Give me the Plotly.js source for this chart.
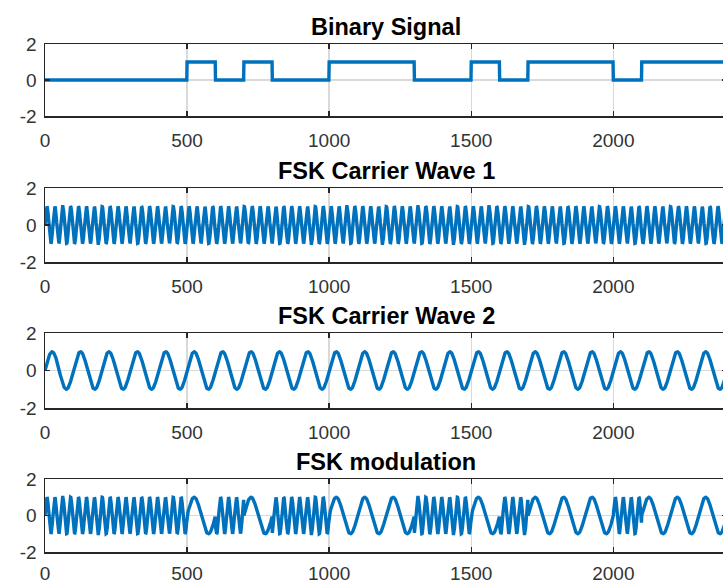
<!DOCTYPE html>
<html>
<head>
<meta charset="utf-8">
<script src="https://cdn.plot.ly/plotly-3.0.1.min.js"></script>
<style>
  html, body { margin: 0; padding: 0; overflow: hidden; background: #fff; }
  #chart { width: 728px; height: 585px; }
</style>
</head>
<body>
<div id="chart"></div>
<script>
// Bit stream sent through the FSK modulator (one bit per 100 samples)
const bits = [0, 0, 0, 0, 0, 1, 0, 1, 0, 0, 1, 1, 1, 0, 0, 1, 0, 1, 1, 1, 0, 1, 1, 1];
const samplesPerBit = 100;
// Carrier frequencies, in cycles per bit period
const carrier1CyclesPerBit = 3.6;   // used for bit 0
const carrier2CyclesPerBit = 1;     // used for bit 1

const panelTitles = ['Binary Signal', 'FSK Carrier Wave 1', 'FSK Carrier Wave 2', 'FSK modulation'];
const xTickVals = [0, 500, 1000, 1500, 2000];
const xTickText = ['0', '500', '1000', '1500', '2000'];
const yTickVals = [-2, 0, 2];
const yTickText = ['-2', '0', '2'];

// Build the sampled signals
const nSamples = bits.length * samplesPerBit;
const n = [], binary = [], carrier1 = [], carrier2 = [], fsk = [];
for (let i = 0; i <= nSamples; i++) {
  const b = bits[Math.min(Math.floor(i / samplesPerBit), bits.length - 1)];
  const c1 = Math.sin(2 * Math.PI * carrier1CyclesPerBit * i / samplesPerBit);
  const c2 = Math.sin(2 * Math.PI * carrier2CyclesPerBit * i / samplesPerBit);
  n.push(i);
  binary.push(b);
  carrier1.push(c1);
  carrier2.push(c2);
  fsk.push(b === 1 ? c2 : c1);
}

const lineColor = '#0072BD';
const series = [binary, carrier1, carrier2, fsk];
const traces = series.map((y, k) => ({
  x: n, y: y, type: 'scatter', mode: 'lines',
  xaxis: k === 0 ? 'x' : 'x' + (k + 1),
  yaxis: k === 0 ? 'y' : 'y' + (k + 1),
  line: { color: lineColor, width: 3.4 },
  hoverinfo: 'skip'
}));

// Panel placement in pixels (top, bottom) on the 585 px tall page
const H = 585;
const panelsPx = [[44, 116], [188, 262], [333, 408], [479, 552]];

const font = { family: 'Liberation Sans, Arial, sans-serif', size: 19, color: '#333333' };
const layout = {
  width: 728, height: H,
  margin: { l: 45, r: 1, t: 0, b: 0 },
  paper_bgcolor: '#ffffff', plot_bgcolor: '#ffffff',
  showlegend: false,
  font: font,
  annotations: []
};

panelsPx.forEach((p, k) => {
  const sfx = k === 0 ? '' : String(k + 1);
  const dom = [1 - p[1] / H, 1 - p[0] / H];
  layout['xaxis' + sfx] = {
    domain: [0, 1], anchor: 'y' + sfx,
    range: [0, 2400],
    tickvals: xTickVals, ticktext: xTickText,
    ticks: 'inside', ticklen: 5, tickwidth: 1.5, tickcolor: '#262626',
    ticklabelstandoff: k === 3 ? 4 : 7,
    showline: true, linecolor: '#262626', linewidth: 1.5, mirror: 'allticks',
    showgrid: true, gridcolor: '#d9d9d9', gridwidth: 1.5,
    zeroline: false,
    tickfont: font, fixedrange: true
  };
  layout['yaxis' + sfx] = {
    domain: dom, anchor: 'x' + sfx,
    range: [-2, 2],
    tickvals: yTickVals, ticktext: yTickText,
    ticks: 'inside', ticklen: 5, tickwidth: 1.5, tickcolor: '#262626',
    ticklabelstandoff: 3,
    showline: true, linecolor: '#262626', linewidth: 1.5, mirror: 'allticks',
    showgrid: true, gridcolor: '#d9d9d9', gridwidth: 1.5,
    zeroline: false,
    tickfont: font, fixedrange: true
  };
  layout.annotations.push({
    text: '<b>' + panelTitles[k] + '</b>',
    xref: 'paper', yref: 'paper',
    x: 0.5, y: dom[1], xanchor: 'center', yanchor: 'bottom', yshift: 2,
    showarrow: false,
    font: { family: 'Liberation Sans, Arial, sans-serif', size: 23.5, color: '#000000' }
  });
});

Plotly.newPlot('chart', traces, layout, { displayModeBar: false, staticPlot: true });
</script>
</body>
</html>
